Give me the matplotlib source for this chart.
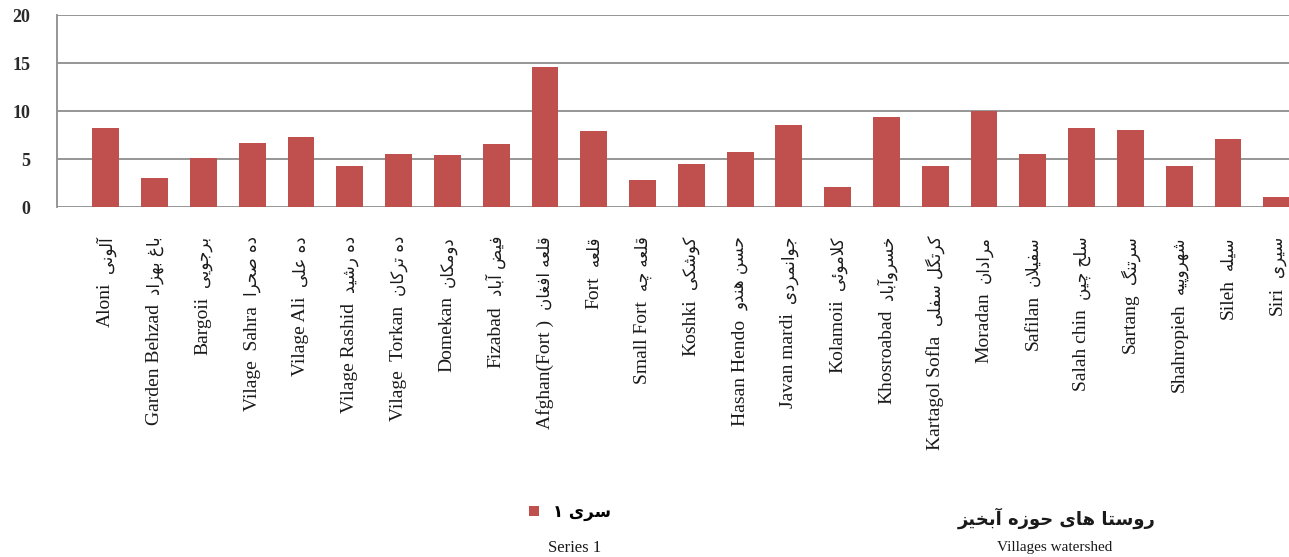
import matplotlib
matplotlib.use("Agg")
import matplotlib.pyplot as plt
import matplotlib.transforms as mtransforms

# ---------------- data ----------------
english = ["Aloni", "Garden Behzad", "Bargoii", "Vilage  Sahra", "Vilage Ali",
           "Vilage Rashid", "Vilage  Torkan", "Domekan", "Fizabad", "Afghan(Fort )",
           "Fort", "Small Fort", "Koshki", "Hasan Hendo", "Javan mardi", "Kolamoii",
           "Khosroabad", "Kartagol Sofla", "Moradan", "Safilan", "Salah chin",
           "Sartang", "Shahropieh", "Sileh", "Siri"]
persian = ["آلونی", "باغ بهزاد", "برجویی", "ده صحرا", "ده علی", "ده رشید", "ده ترکان",
           "دومکان", "فیض آباد", "قلعه افغان", "قلعه", "قلعه چه", "کوشکی", "حسن هندو",
           "جوانمردی", "کلاموئی", "خسروآباد", "کرتگل سفلی", "مرادان", "سفیلان",
           "سلح چین", "سرتنگ", "شهروپیه", "سیله", "سیری"]
values = [8.2, 3.05, 5.1, 6.7, 7.3, 4.3, 5.55, 5.4, 6.6, 14.6, 7.9, 2.8, 4.5, 5.7,
          8.5, 2.05, 9.4, 4.3, 10.0, 5.55, 8.2, 8.0, 4.3, 7.1, 1.07]
yticks = [0, 5, 10, 15, 20]
series_fa = "سری ۱"
series_en = "Series 1"
title_fa = "روستا های حوزه آبخیز"
title_en = "Villages watershed"

# ---------------- Persian shaping helper ----------------
FORMS = {
    'ا': ('\uFE8D', '\uFE8E', None, None), 'آ': ('\uFE81', '\uFE82', None, None),
    'د': ('\uFEA9', '\uFEAA', None, None), 'ر': ('\uFEAD', '\uFEAE', None, None),
    'ز': ('\uFEAF', '\uFEB0', None, None), 'و': ('\uFEED', '\uFEEE', None, None),
    'ب': ('\uFE8F', '\uFE90', '\uFE91', '\uFE92'), 'پ': ('\uFB56', '\uFB57', '\uFB58', '\uFB59'),
    'ت': ('\uFE95', '\uFE96', '\uFE97', '\uFE98'), 'ج': ('\uFE9D', '\uFE9E', '\uFE9F', '\uFEA0'),
    'چ': ('\uFB7A', '\uFB7B', '\uFB7C', '\uFB7D'), 'ح': ('\uFEA1', '\uFEA2', '\uFEA3', '\uFEA4'),
    'خ': ('\uFEA5', '\uFEA6', '\uFEA7', '\uFEA8'), 'س': ('\uFEB1', '\uFEB2', '\uFEB3', '\uFEB4'),
    'ش': ('\uFEB5', '\uFEB6', '\uFEB7', '\uFEB8'), 'ص': ('\uFEB9', '\uFEBA', '\uFEBB', '\uFEBC'),
    'ض': ('\uFEBD', '\uFEBE', '\uFEBF', '\uFEC0'), 'ع': ('\uFEC9', '\uFECA', '\uFECB', '\uFECC'),
    'غ': ('\uFECD', '\uFECE', '\uFECF', '\uFED0'), 'ف': ('\uFED1', '\uFED2', '\uFED3', '\uFED4'),
    'ق': ('\uFED5', '\uFED6', '\uFED7', '\uFED8'), 'ک': ('\uFB8E', '\uFB8F', '\uFB90', '\uFB91'),
    'گ': ('\uFB92', '\uFB93', '\uFB94', '\uFB95'), 'ل': ('\uFEDD', '\uFEDE', '\uFEDF', '\uFEE0'),
    'م': ('\uFEE1', '\uFEE2', '\uFEE3', '\uFEE4'), 'ن': ('\uFEE5', '\uFEE6', '\uFEE7', '\uFEE8'),
    'ه': ('\uFEE9', '\uFEEA', '\uFEEB', '\uFEEC'), 'ی': ('\uFBFC', '\uFBFD', '\uFBFE', '\uFBFF'),
    'ئ': ('\uFE89', '\uFE8A', '\uFE8B', '\uFE8C'),
}
LAMALEF = {'ا': ('\uFEFB', '\uFEFC'), 'آ': ('\uFEF5', '\uFEF6')}


def dual(c):
    return c in FORMS and FORMS[c][2] is not None


def shape(text):
    out = []
    i = 0
    n = len(text)
    while i < n:
        c = text[i]
        prev = text[i - 1] if i > 0 else None
        jp = prev is not None and dual(prev)
        if c == 'ل' and i + 1 < n and text[i + 1] in LAMALEF:
            iso, fin = LAMALEF[text[i + 1]]
            out.append(fin if jp else iso)
            i += 2
            continue
        if c not in FORMS:
            out.append(c)
            i += 1
            continue
        nxt = text[i + 1] if i + 1 < n else None
        jn = dual(c) and nxt is not None and nxt in FORMS
        iso, fin, ini, med = FORMS[c]
        if jp and jn:
            out.append(med)
        elif jp:
            out.append(fin)
        elif jn:
            out.append(ini)
        else:
            out.append(iso)
        i += 1
    return ''.join(out)[::-1]


# ---------------- figure ----------------
W, H = 1289, 557
fig = plt.figure(figsize=(W / 100, H / 100), dpi=100)
ax = fig.add_axes([57 / W, 1 - 207 / H, 1 - 57 / W, (207 - 15) / H])

BAR = "#C0504D"
GRID = "#8E8E8E"
x = list(range(len(values)))
bars = ax.bar(x, values, width=0.55, color=BAR, zorder=3)

ax.set_ylim(0, 20)
ax.set_xlim(-1.0, 24.25)
ax.set_yticks(yticks)
ax.yaxis.grid(True, color=GRID, linewidth=1.3, zorder=0)
ax.set_axisbelow(True)
for s in ["top", "right", "bottom"]:
    ax.spines[s].set_visible(False)
ax.spines["left"].set_color(GRID)
ax.spines["left"].set_linewidth(1.3)
ax.tick_params(axis="y", length=0, pad=19, labelsize=13, labelcolor="#2a2a2a")
for lab in ax.get_yticklabels():
    lab.set_family(["Liberation Serif"])
    lab.set_fontweight("semibold")
ax.set_xticks([])

# category labels: Persian on top, English below (rotated)
trans = mtransforms.blended_transform_factory(ax.transData, fig.transFigure)
for xi, en, fa in zip(x, english, persian):
    t = ax.text(xi, 1 - 236 / H, shape(fa), rotation=90, ha="center", va="top",
                fontsize=12, family=["DejaVu Sans"], color="#1a1a1a",
                transform=trans, clip_on=False)
    ax.annotate(en, xy=(0.5, 0.0), xycoords=t, xytext=(0, -7),
                textcoords="offset points", rotation=90, ha="center", va="top",
                fontsize=14, family=["Liberation Serif"], color="#1a1a1a",
                annotation_clip=False)

# legend
leg = fig.legend([bars], [shape(series_fa)], loc="center",
                 bbox_to_anchor=(570 / W, 1 - 512 / H), frameon=False,
                 handlelength=0.6, handleheight=0.6, handletextpad=0.8,
                 prop={"family": ["DejaVu Sans"], "size": 12, "weight": "bold"})
fig.text(575 / W, 1 - 548 / H, series_en, ha="center", va="center",
         fontsize=12, family=["Liberation Serif"], color="#1a1a1a")
fig.text(1057 / W, 1 - 518 / H, shape(title_fa), ha="center", va="center",
         fontsize=13, fontweight="bold", family=["DejaVu Sans"], color="#1a1a1a")
fig.text(1055 / W, 1 - 548 / H, title_en, ha="center", va="center",
         fontsize=11, family=["Liberation Serif"], color="#1a1a1a")

fig.savefig("out.png", dpi=100)
